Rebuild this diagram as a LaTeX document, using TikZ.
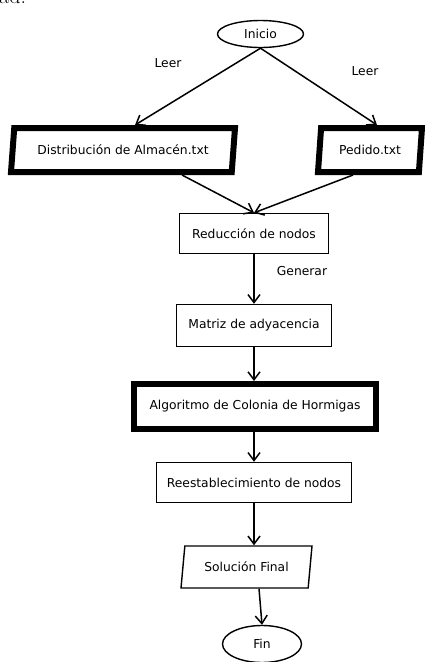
\documentclass[tikz,border=0pt]{standalone}
\usepackage{fontspec}
\newfontfamily\diagfont{DejaVu Sans}
\usetikzlibrary{shapes.geometric,arrows.meta,calc}
\begin{document}
\begin{tikzpicture}[x=1pt,y=-1pt,
  every node/.style={font=\diagfont\fontsize{12.3}{14}\selectfont, inner sep=0pt},
  procbox/.style={draw, line width=1.4pt, rectangle},
  thickbox/.style={draw, line width=6pt, rectangle},
  iobox/.style={draw, trapezium, trapezium left angle=72, trapezium right angle=108, trapezium stretches body},
  termbox/.style={draw, ellipse, line width=1.4pt},
  conn/.style={line width=1.5pt, -{Straight Barb[length=8pt,width=12pt,line width=1.5pt]}},
  lbl/.style={}
]
\useasboundingbox (0,0) rectangle (425,662);
\node[anchor=base west, font=\fontsize{22}{24}\selectfont] (frag) at (-1,3) {ad.};
\node[termbox, minimum width=86pt, minimum height=27pt] (ini) at (260.5,34) {Inicio};
\node[iobox, line width=6pt, minimum width=224pt, minimum height=44pt] (dist) at (123,150) {Distribución de Almacén.txt};
\node[iobox, line width=6pt, minimum width=104pt, minimum height=44pt] (ped) at (370,150) {Pedido.txt};
\node[procbox, minimum width=149pt, minimum height=40pt] (red) at (254,233.5) {Reducción de nodos};
\node[procbox, minimum width=155pt, minimum height=42pt] (mat) at (254,325.5) {Matriz de adyacencia};
\node[thickbox, minimum width=242pt, minimum height=45pt] (alg) at (255,406.5) {Algoritmo de Colonia de Hormigas};
\node[procbox, minimum width=195pt, minimum height=40pt] (rees) at (254,482.5) {Reestablecimiento de nodos};
\node[iobox, line width=1.4pt, trapezium left angle=69, trapezium right angle=111, minimum width=131pt, minimum height=42pt] (sol) at (246.5,567) {Solución Final};
\node[termbox, minimum width=79pt, minimum height=37pt] (fin) at (262,644) {Fin};
\node[lbl] (l1) at (168,63) {Leer};
\node[lbl] (l2) at (365,71) {Leer};
\node[lbl] (l3) at (302,271) {Generar};
\draw[conn] (ini.south) -- ([xshift=12pt]dist.north);
\draw[conn] (ini.south) -- ([xshift=7pt]ped.north);
\draw[conn] ([xshift=59pt]dist.south) -- (red.north);
\draw[conn] ([xshift=-17pt]ped.south) -- (red.north);
\draw[conn] (red.south) -- (mat.north);
\draw[conn] (mat.south) -- ([xshift=-1pt]alg.north);
\draw[conn] ([xshift=-1pt]alg.south) -- (rees.north);
\draw[conn] (rees.south) -- (rees.south |- sol.north);
\draw[conn] ([xshift=12.5pt]sol.south) -- (fin.north);
\end{tikzpicture}
\end{document}
